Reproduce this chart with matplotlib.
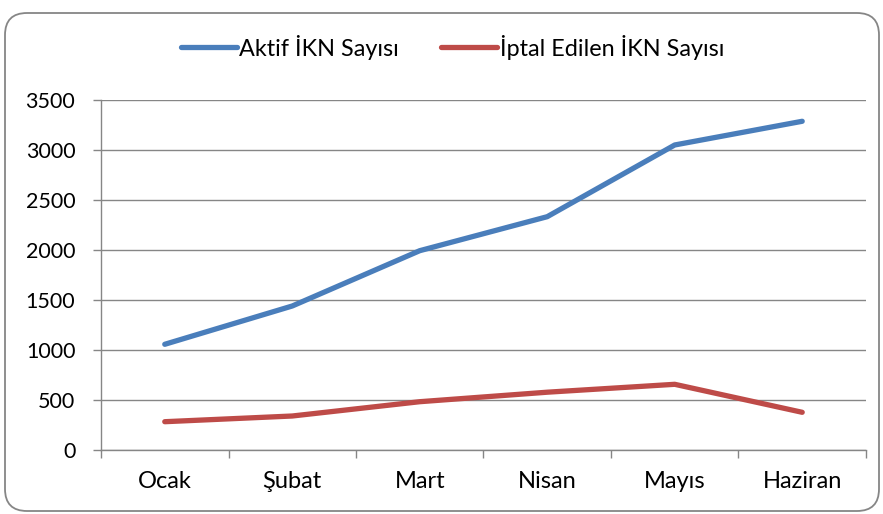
import numpy as np
import matplotlib
matplotlib.use("Agg")
import matplotlib.pyplot as plt
from matplotlib.patches import FancyBboxPatch

months = ["Ocak", "Şubat", "Mart", "Nisan", "Mayıs", "Haziran"]
aktif = [1057, 1440, 1993, 2333, 3050, 3287]
iptal = [283, 340, 483, 578, 657, 377]
yticks = [0, 500, 1000, 1500, 2000, 2500, 3000, 3500]

plt.rcParams['font.family'] = ['Lato', 'DejaVu Sans']

fig = plt.figure(figsize=(8.83, 5.14), dpi=100)
ax = fig.add_axes([0.1144, 0.1245, 0.8663, 0.681])

x = np.arange(len(months))
ax.plot(x, aktif, color='#4A7EBB', lw=3.8, solid_capstyle='round',
        solid_joinstyle='round', label='Aktif İKN Sayısı')
ax.plot(x, iptal, color='#BE4B48', lw=3.8, solid_capstyle='round',
        solid_joinstyle='round', label='İptal Edilen İKN Sayısı')

ax.set_xlim(-0.5, len(months) - 0.5)
ax.set_ylim(0, 3500)
ax.set_yticks(yticks)
ax.set_xticks(np.arange(-0.5, len(months)), labels=[])
ax.set_xticks(x, labels=months, minor=True)
ax.tick_params(axis='x', which='minor', length=0, pad=15, labelsize=17)
ax.tick_params(axis='x', which='major', length=5.5, width=1, color='#868686')
ax.tick_params(axis='y', length=5.5, width=1, color='#868686', labelsize=15.5, pad=13)

ax.grid(axis='y', color='#868686', lw=1)
ax.set_axisbelow(True)
for s in ['top', 'right']:
    ax.spines[s].set_visible(False)
for s in ['left', 'bottom']:
    ax.spines[s].set_color('#868686')
    ax.spines[s].set_linewidth(1)

fig.legend(loc='center', bbox_to_anchor=(0.5 + 11 / 883, 1 - 47 / 514), ncol=2,
           frameon=False, fontsize=16.8, handlelength=2.4, handletextpad=0.12,
           columnspacing=1.8)

border = FancyBboxPatch((5, 3), 874, 498, boxstyle="round,pad=0,rounding_size=22",
                        transform=None, fill=False, edgecolor='#868686', lw=1.3)
fig.patches.append(border)

fig.savefig("out.png", dpi=100)
